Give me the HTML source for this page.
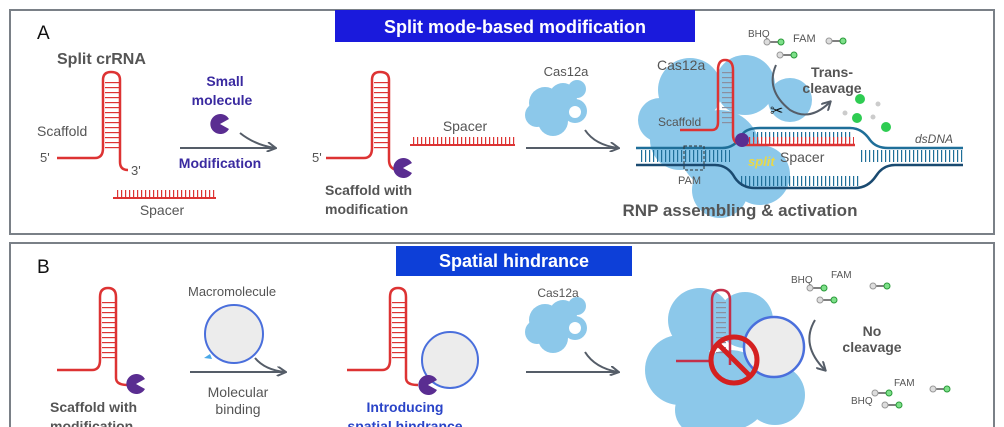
<!DOCTYPE html>
<html><head><meta charset="utf-8"><style>
html,body{margin:0;padding:0;background:#fff}
svg{display:block}
text{font-family:"Liberation Sans",Arial,sans-serif}
</style></head><body>
<svg width="1004" height="427" viewBox="0 0 1004 427" xmlns="http://www.w3.org/2000/svg">
<defs>
<pattern id="vt" width="4" height="10" patternUnits="userSpaceOnUse"><rect x="1" y="0" width="1.2" height="10" fill="#d33"/></pattern>
<pattern id="vb" width="4" height="10" patternUnits="userSpaceOnUse"><rect x="1" y="0" width="1.2" height="10" fill="#1f6f99"/></pattern>
<pattern id="hr" width="10" height="5" patternUnits="userSpaceOnUse"><rect x="0" y="2" width="10" height="1.2" fill="#d33"/></pattern>
<pattern id="hg" width="10" height="5" patternUnits="userSpaceOnUse"><rect x="0" y="2" width="10" height="1.2" fill="#8a8fa0"/></pattern>
<marker id="ar" markerWidth="10" markerHeight="10" refX="8" refY="5" orient="auto" markerUnits="userSpaceOnUse"><path d="M0,0 L9,5 L0,10" fill="none" stroke="#555d68" stroke-width="2"/></marker>
<g id="pac"><path d="M0,0 L9,-5 A10,10 0 1 0 9,5 Z" fill="#5a2d91"/></g>
<g id="rep"><line x1="0" y1="0" x2="14" y2="0" stroke="#555" stroke-width="1.5"/><circle cx="0" cy="0" r="3" fill="#ddd" stroke="#999"/><circle cx="14" cy="0" r="3" fill="#7ee08a" stroke="#2a9a3a"/></g>
<g id="blobS" fill="#8cc8ea"><circle cx="0" cy="0" r="16"/><circle cx="18" cy="-6" r="14"/><circle cx="30" cy="8" r="12"/><circle cx="8" cy="18" r="15"/><circle cx="-8" cy="12" r="12"/><circle cx="32" cy="-14" r="9"/></g>
</defs>

<!-- Panel A -->
<rect x="10" y="10" width="984" height="224" fill="none" stroke="#7a8087" stroke-width="2"/>
<rect x="335" y="10" width="360" height="32" fill="#1a1adc"/>
<text x="515" y="33" font-size="18" font-weight="bold" fill="#fff" text-anchor="middle">Split mode-based modification</text>
<text x="37" y="39" font-size="19" fill="#111">A</text>
<text x="57" y="64" font-size="16" font-weight="bold" fill="#555">Split crRNA</text>
<text x="37" y="136" font-size="14" fill="#555">Scaffold</text>
<text x="40" y="162" font-size="13" fill="#555">5'</text>
<text x="131" y="175" font-size="13" fill="#555">3'</text>
<rect x="105" y="82" width="14" height="68" fill="url(#hr)"/>
<path d="M57,158 H95 Q103,158 103,148 V80 Q103,72 111,72 Q120,72 120,80 V162 Q120,170 128,170" fill="none" stroke="#d33" stroke-width="2.5"/>
<rect x="115" y="190" width="100" height="8" fill="url(#vt)"/>
<line x1="113" y1="198" x2="216" y2="198" stroke="#d33" stroke-width="2"/>
<text x="162" y="215" font-size="14" fill="#555" text-anchor="middle">Spacer</text>
<text x="225" y="86" font-size="14" font-weight="bold" fill="#3a2aa0" text-anchor="middle">Small</text>
<text x="222" y="105" font-size="14" font-weight="bold" fill="#3a2aa0" text-anchor="middle">molecule</text>
<use href="#pac" x="220" y="124"/>
<path d="M240,133 Q255,145 275,148" fill="none" stroke="#555d68" stroke-width="2" marker-end="url(#ar)"/>
<line x1="180" y1="148" x2="274" y2="148" stroke="#555d68" stroke-width="2"/>
<text x="220" y="168" font-size="14" font-weight="bold" fill="#3a2aa0" text-anchor="middle">Modification</text>

<text x="312" y="162" font-size="13" fill="#555">5'</text>
<rect x="374" y="82" width="14" height="68" fill="url(#hr)"/>
<path d="M326,158 H364 Q372,158 372,148 V80 Q372,72 380,72 Q389,72 389,80 V160 Q389,168 396,170" fill="none" stroke="#d33" stroke-width="2.5"/>
<use href="#pac" x="403" y="168"/>
<text x="325" y="195" font-size="14" font-weight="bold" fill="#555">Scaffold with</text>
<text x="325" y="214" font-size="14" font-weight="bold" fill="#555">modification</text>
<rect x="412" y="137" width="103" height="8" fill="url(#vt)"/>
<line x1="410" y1="145" x2="515" y2="145" stroke="#d33" stroke-width="2"/>
<text x="465" y="131" font-size="14" fill="#555" text-anchor="middle">Spacer</text>

<text x="566" y="76" font-size="13" fill="#555" text-anchor="middle">Cas12a</text>
<use href="#blobS" x="545" y="103"/>
<circle cx="575" cy="112" r="6" fill="#fff"/>
<path d="M585,130 Q595,145 618,148" fill="none" stroke="#555d68" stroke-width="2" marker-end="url(#ar)"/>
<line x1="526" y1="148" x2="617" y2="148" stroke="#555d68" stroke-width="2"/>

<!-- big complex A -->
<g fill="#8cc8ea">
<circle cx="690" cy="90" r="32"/><circle cx="745" cy="85" r="30"/><circle cx="790" cy="100" r="22"/>
<circle cx="680" cy="140" r="30"/><circle cx="720" cy="150" r="40"/><circle cx="760" cy="175" r="30"/>
<circle cx="720" cy="190" r="28"/><circle cx="660" cy="120" r="22"/>
</g>
<rect x="640" y="150" width="90" height="12" fill="url(#vb)"/>
<rect x="860" y="150" width="103" height="12" fill="url(#vb)"/>
<rect x="752" y="132" width="100" height="10" fill="url(#vb)"/>
<rect x="740" y="176" width="120" height="10" fill="url(#vb)"/>
<path d="M636,148 H722 Q735,148 742,135 Q746,128 760,128 H850 Q862,128 870,140 Q876,148 888,148 H963" fill="none" stroke="#1f6f99" stroke-width="2.5"/>
<path d="M636,165 H715 Q728,165 735,178 Q742,188 755,188 H855 Q868,188 876,176 Q883,165 895,165 H963" fill="none" stroke="#1a4a70" stroke-width="2.5"/>
<rect x="722" y="70" width="11" height="55" fill="url(#hg)"/>
<path d="M680,130 H712 Q718,130 718,122 V70 Q718,60 725,60 Q733,60 733,70 V135 Q733,145 745,145 H855" fill="none" stroke="#d33" stroke-width="2.5"/>
<rect x="746" y="137" width="108" height="8" fill="url(#vt)"/>
<circle cx="742" cy="140" r="7" fill="#5a2d91"/>
<text x="657" y="70" font-size="14" fill="#555">Cas12a</text>
<text x="658" y="126" font-size="12" fill="#555">Scaffold</text>
<text x="780" y="162" font-size="14" fill="#555">Spacer</text>
<text x="678" y="184" font-size="11" fill="#555">PAM</text>
<rect x="684" y="146" width="20" height="24" fill="none" stroke="#333" stroke-width="1" stroke-dasharray="3,2"/>
<text x="748" y="166" font-size="13" font-style="italic" font-weight="bold" fill="#e8d84a">split</text>
<text x="915" y="143" font-size="12" font-style="italic" fill="#555">dsDNA</text>
<text x="740" y="216" font-size="17" font-weight="bold" fill="#555" text-anchor="middle">RNP assembling &amp; activation</text>
<text x="748" y="37" font-size="10" fill="#555">BHQ</text>
<text x="793" y="42" font-size="11" fill="#555">FAM</text>
<use href="#rep" x="767" y="42"/><use href="#rep" x="829" y="41"/><use href="#rep" x="780" y="55"/>
<text x="832" y="77" font-size="14" font-weight="bold" fill="#555" text-anchor="middle">Trans-</text>
<text x="832" y="93" font-size="14" font-weight="bold" fill="#555" text-anchor="middle">cleavage</text>
<path d="M776,65 Q765,90 790,110 Q810,122 830,102" fill="none" stroke="#555d68" stroke-width="2" marker-end="url(#ar)"/>
<text x="770" y="116" font-size="16" fill="#111">✂</text>
<circle cx="860" cy="99" r="5" fill="#2ecc52"/><circle cx="857" cy="118" r="5" fill="#2ecc52"/><circle cx="886" cy="127" r="5" fill="#2ecc52"/>
<circle cx="845" cy="113" r="2.5" fill="#ccc"/><circle cx="878" cy="104" r="2.5" fill="#ccc"/><circle cx="873" cy="117" r="2.5" fill="#ccc"/>

<!-- Panel B -->
<rect x="10" y="243" width="984" height="200" fill="none" stroke="#7a8087" stroke-width="2"/>
<rect x="396" y="246" width="236" height="30" fill="#0d3fd8"/>
<text x="514" y="267" font-size="18" font-weight="bold" fill="#fff" text-anchor="middle">Spatial hindrance</text>
<text x="37" y="273" font-size="19" fill="#111">B</text>
<rect x="102" y="300" width="13" height="62" fill="url(#hr)"/>
<path d="M57,370 H92 Q100,370 100,360 V297 Q100,288 108,288 Q116,288 116,297 V378 Q116,385 128,385" fill="none" stroke="#d33" stroke-width="2.5"/>
<use href="#pac" x="136" y="384"/>
<text x="50" y="412" font-size="14" font-weight="bold" fill="#555">Scaffold with</text>
<text x="50" y="431" font-size="14" font-weight="bold" fill="#555">modification</text>
<text x="188" y="296" font-size="13" fill="#555">Macromolecule</text>
<circle cx="234" cy="334" r="29" fill="#ececec" stroke="#4a6fdc" stroke-width="2"/>
<path d="M210,354 l-6,4 l8,1z" fill="#4aa8e8"/>
<path d="M255,358 Q265,370 285,372" fill="none" stroke="#555d68" stroke-width="2" marker-end="url(#ar)"/>
<line x1="190" y1="372" x2="284" y2="372" stroke="#555d68" stroke-width="2"/>
<text x="238" y="397" font-size="14" fill="#555" text-anchor="middle">Molecular</text>
<text x="238" y="414" font-size="14" fill="#555" text-anchor="middle">binding</text>
<rect x="392" y="300" width="13" height="62" fill="url(#hr)"/>
<path d="M347,370 H382 Q390,370 390,360 V297 Q390,288 398,288 Q406,288 406,297 V378 Q406,385 418,385" fill="none" stroke="#d33" stroke-width="2.5"/>
<circle cx="450" cy="360" r="28" fill="#ececec" stroke="#4a6fdc" stroke-width="2"/>
<use href="#pac" x="428" y="385"/>
<text x="405" y="412" font-size="14" font-weight="bold" fill="#2a44c8" text-anchor="middle">Introducing</text>
<text x="405" y="431" font-size="14" font-weight="bold" fill="#2a44c8" text-anchor="middle">spatial hindrance</text>
<text x="558" y="297" font-size="12" fill="#555" text-anchor="middle">Cas12a</text>
<use href="#blobS" x="545" y="320"/>
<circle cx="575" cy="328" r="6" fill="#fff"/>
<path d="M585,352 Q595,368 618,372" fill="none" stroke="#555d68" stroke-width="2" marker-end="url(#ar)"/>
<line x1="526" y1="372" x2="617" y2="372" stroke="#555d68" stroke-width="2"/>
<g fill="#8cc8ea">
<circle cx="700" cy="320" r="32"/><circle cx="745" cy="320" r="28"/><circle cx="680" cy="370" r="35"/>
<circle cx="730" cy="390" r="40"/><circle cx="775" cy="395" r="30"/><circle cx="700" cy="410" r="25"/>
</g>
<rect x="716" y="300" width="10" height="55" fill="url(#hg)"/>
<path d="M676,361 H712 V300 Q712,290 721,290 Q730,290 730,300 V365" fill="none" stroke="#c4304a" stroke-width="2.5"/>
<circle cx="774" cy="347" r="30" fill="#ececec" stroke="#4a6fdc" stroke-width="2.5"/>
<circle cx="734" cy="360" r="23" fill="none" stroke="#d42020" stroke-width="5"/>
<line x1="718" y1="344" x2="750" y2="376" stroke="#d42020" stroke-width="5"/>
<text x="791" y="283" font-size="10" fill="#555">BHQ</text>
<text x="831" y="278" font-size="10" fill="#555">FAM</text>
<use href="#rep" x="810" y="288"/><use href="#rep" x="873" y="286"/><use href="#rep" x="820" y="300"/>
<path d="M815,320 Q800,345 825,370" fill="none" stroke="#555d68" stroke-width="2" marker-end="url(#ar)"/>
<text x="872" y="336" font-size="14" font-weight="bold" fill="#555" text-anchor="middle">No</text>
<text x="872" y="352" font-size="14" font-weight="bold" fill="#555" text-anchor="middle">cleavage</text>
<text x="894" y="386" font-size="10" fill="#555">FAM</text>
<text x="851" y="404" font-size="10" fill="#555">BHQ</text>
<use href="#rep" x="875" y="393"/><use href="#rep" x="933" y="389"/><use href="#rep" x="885" y="405"/>
</svg>
</body></html>
